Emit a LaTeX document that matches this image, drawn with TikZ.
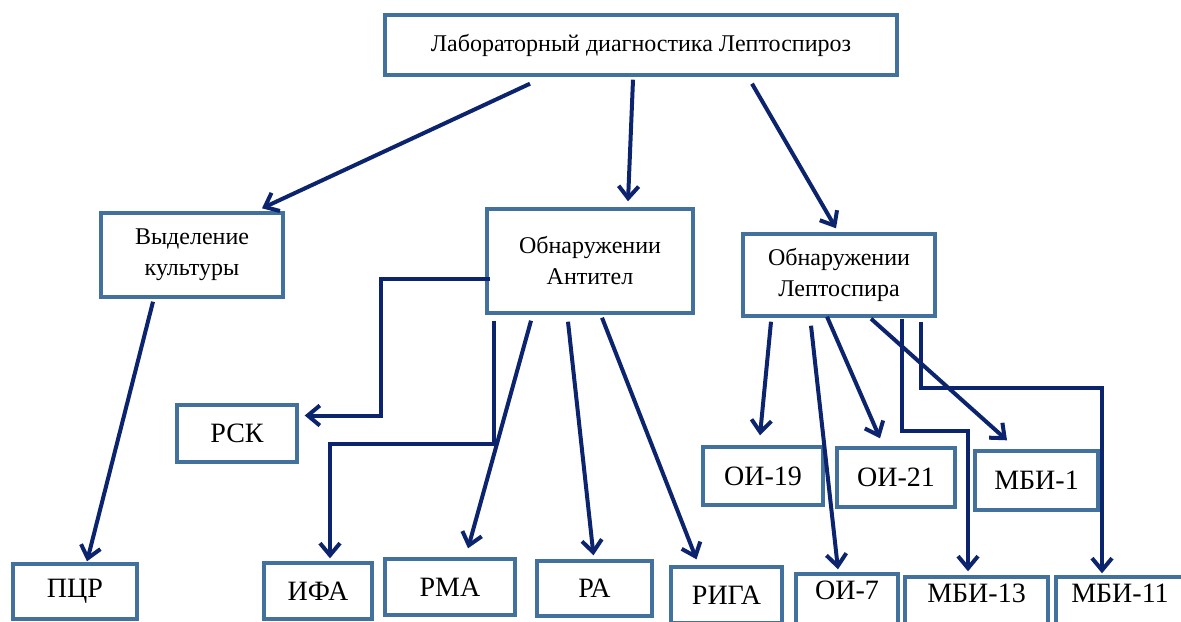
\documentclass[tikz,border=0pt]{standalone}
\usepackage{fontspec}
\setmainfont{Liberation Serif}
\usetikzlibrary{arrows.meta,calc}
\definecolor{boxblue}{RGB}{65,113,156}
\definecolor{arrowblue}{RGB}{12,36,110}
\begin{document}
\begin{tikzpicture}[x=0.5pt, y=-0.5pt, >={Straight Barb[length=6pt,width=10pt]},
    box/.style={draw=boxblue, line width=1.7pt, inner sep=0pt, align=center},
    big/.style={font=\fontsize{14}{16}\selectfont},
    mid/.style={font=\fontsize{12}{15.5}\selectfont},
    cut/.style={text depth=12pt},
    link/.style={->, draw=arrowblue, line width=2pt}]
    \useasboundingbox (0,0) rectangle (1181,621);
    \node[box, mid, minimum width=256pt, minimum height=30pt] (lab) at (641,45) {Лабораторный диагностика Лептоспироз};
    \node[box, mid, minimum width=91pt, minimum height=42pt] (vyd) at (192,255) {Выделение\\культуры};
    \node[box, mid, minimum width=103pt, minimum height=52pt] (ant) at (590,261) {Обнаружении\\Антител};
    \node[box, mid, minimum width=96pt, minimum height=41pt] (lep) at (839,275) {Обнаружении\\Лептоспира};
    \node[box, big, minimum width=60pt, minimum height=28.5pt] (rsk) at (237,433.5) {РСК};
    \node[box, big, minimum width=62pt, minimum height=27.5pt] (pcr) at (75,591.5) {ПЦР};
    \node[box, big, minimum width=54pt, minimum height=28pt] (ifa) at (318,591) {ИФА};
    \node[box, big, minimum width=65pt, minimum height=28pt] (rma) at (450,587) {РМА};
    \node[box, big, minimum width=57.5pt, minimum height=27.5pt] (ra) at (594.5,588.5) {РА};
    \node[box, big, minimum width=55.5pt, minimum height=28pt] (riga) at (726.5,595) {РИГА};
    \node[box, big, minimum width=60pt, minimum height=29pt] (oi19) at (763,476) {ОИ-19};
    \node[box, big, minimum width=59pt, minimum height=29.5pt] (oi21) at (896,477.5) {ОИ-21};
    \node[box, big, minimum width=61.5pt, minimum height=29.5pt] (mbi1) at (1036.5,480.5) {МБИ-1};
    \node[box, big, cut, minimum width=51pt, minimum height=28pt] (oi7) at (847,602) {ОИ-7};
    \node[box, big, cut, minimum width=71.5pt, minimum height=28pt] (mbi13) at (976.5,605) {МБИ-13};
    \node[box, big, cut, minimum width=64pt, minimum height=28pt] (mbi11) at (1120,605) {МБИ-11};
    \path
    ($(lab.south)+(-111,7)$) edge[link] ($(vyd.north)+(70,-3)$)
    ($(lab.south)+(-8,3)$) edge[link] ($(ant.north)+(38,-6)$)
    ($(lab.south)+(111,7)$) edge[link] ($(lep.north)+(-3,-4)$)
    ($(vyd.south)+(-39,3)$) edge[link] ($(pcr.north)+(12,-1)$)
    ($(ant.south)+(-59,6)$) edge[link] ($(rma.north)+(18,-9)$)
    ($(ant.south)+(-22,7)$) edge[link] ($(ra.north)+(-1,-4)$)
    ($(ant.south)+(12,3)$) edge[link] ($(riga.north)+(-30,-6)$)
    ($(lep.south)+(-68,4)$) edge[link] ($(oi19.north)+(-3,-10)$)
    ($(lep.south)+(-28,8)$) edge[link] ($(oi7.north)+(-9,-3)$)
    ($(lep.south)+(-12,-1)$) edge[link] ($(oi21.north)+(-16,-8)$)
    ($(lep.south)+(32,1)$) edge[link] ($(mbi1.north)+(-29.5,-9)$);
    \draw[link] ($(ant.west)+(5,18)$) -- ++(-109,0) |- ($(rsk.east)+(6,-18)$);
    \draw[link] ($(ant.south)+(-96,6)$) -- ++(0,123) -| ($(ifa.north)+(12,-3)$);
    \draw[link] ($(lep.south)+(63,1)$) -- ++(0,112) -| ($(mbi13.north)+(-8.5,-4)$);
    \draw[link] ($(lep.south)+(82,4)$) -- ++(0,66) -| ($(mbi11.north)+(-18,-2)$);
\end{tikzpicture}
\end{document}
